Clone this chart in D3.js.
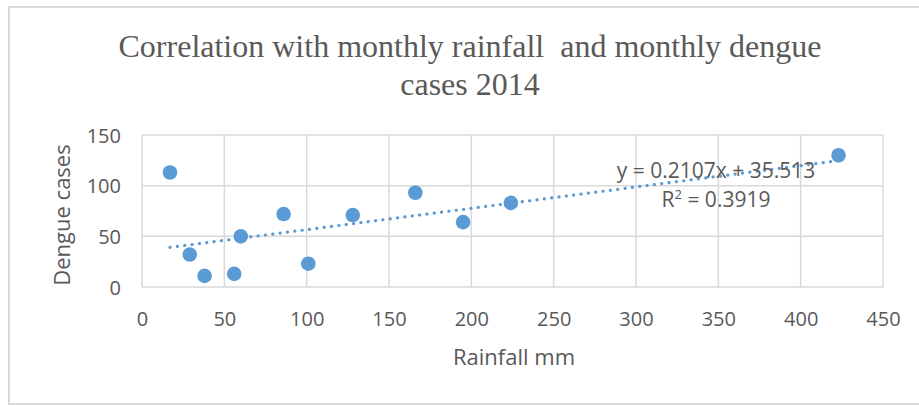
<!DOCTYPE html>
<html>
<head>
<meta charset="utf-8">
<script src="https://cdn.jsdelivr.net/npm/d3@7"></script>
<style>
  html, body { margin: 0; padding: 0; background: #fff; }
  svg { display: block; }
  .title { white-space: pre; }
</style>
</head>
<body>
<svg id="chart" width="919" height="406"></svg>
<script>
// ---- data ----
const rainfall = [17, 29, 38, 56, 60, 86, 101, 128, 166, 195, 224, 423];
const dengue   = [113, 32, 11, 13, 50, 72, 23, 71, 93, 64, 83, 130];
const xTicks = [0, 50, 100, 150, 200, 250, 300, 350, 400, 450];
const yTicks = [0, 50, 100, 150];
const trendSlope = 0.2107;
const trendIntercept = 35.513;
const titleLines = ["Correlation with monthly rainfall  and monthly dengue", "cases 2014"];
const xTitle = "Rainfall mm";
const yTitle = "Dengue cases";
const eqText = "y = 0.2107x + 35.513";
const r2Value = "0.3919";

// ---- layout ----
const svg = d3.select("#chart");
const W = 919, H = 406;
const plot = { left: 142, right: 883, top: 135, bottom: 287 };
const grey = "#595959";
const gridCol = "#d9d9d9";
const blue = "#5B9BD5";
const sans = "'Open Sans', 'Liberation Sans', sans-serif";

// outer border
svg.append("rect")
  .attr("x", 9).attr("y", 7)
  .attr("width", W + 20).attr("height", 397)
  .attr("fill", "#fff")
  .attr("stroke", gridCol).attr("stroke-width", 2);

const x = d3.scaleLinear().domain([0, 450]).range([plot.left, plot.right]);
const y = d3.scaleLinear().domain([0, 150]).range([plot.bottom, plot.top]);

// gridlines
const grid = svg.append("g");
grid.selectAll("line.v").data(xTicks).join("line")
  .attr("x1", d => x(d)).attr("x2", d => x(d))
  .attr("y1", plot.top).attr("y2", plot.bottom)
  .attr("stroke", gridCol).attr("stroke-width", 1.5);
grid.selectAll("line.h").data(yTicks).join("line")
  .attr("x1", plot.left).attr("x2", plot.right)
  .attr("y1", d => y(d)).attr("y2", d => y(d))
  .attr("stroke", gridCol).attr("stroke-width", 1.5);

// axes (labels only)
const xAxis = d3.axisBottom(x).tickValues(xTicks).tickSize(0).tickPadding(0);
const gx = svg.append("g").attr("transform", `translate(0,${plot.bottom})`).call(xAxis);
gx.select(".domain").remove();
gx.selectAll("text").attr("dy", null).attr("y", 39)
  .attr("font-family", sans).attr("font-size", 20).attr("fill", grey);

const yAxis = d3.axisLeft(y).tickValues(yTicks).tickSize(0).tickPadding(0);
const gy = svg.append("g").attr("transform", `translate(121,0)`).call(yAxis);
gy.select(".domain").remove();
gy.selectAll("text").attr("dy", "0.36em").attr("x", 0)
  .attr("font-family", sans).attr("font-size", 20).attr("fill", grey);

// trendline (dotted)
const xMin = d3.min(rainfall), xMax = d3.max(rainfall);
svg.append("line")
  .attr("x1", x(xMin)).attr("y1", y(trendSlope * xMin + trendIntercept))
  .attr("x2", x(xMax)).attr("y2", y(trendSlope * xMax + trendIntercept))
  .attr("stroke", blue).attr("stroke-width", 3.2)
  .attr("stroke-linecap", "round")
  .attr("stroke-dasharray", "0.1 7.3");

// points
const pts = rainfall.map((r, i) => ({ r, d: dengue[i] }));
svg.append("g").selectAll("circle").data(pts).join("circle")
  .attr("cx", p => x(p.r)).attr("cy", p => y(p.d))
  .attr("r", 7.3).attr("fill", blue);

// equation
svg.append("text")
  .attr("x", 716).attr("y", 178).attr("text-anchor", "middle")
  .attr("font-family", sans).attr("font-size", 21).attr("fill", grey)
  .text(eqText);
const r2 = svg.append("text")
  .attr("x", 716).attr("y", 207).attr("text-anchor", "middle")
  .attr("font-family", sans).attr("font-size", 21).attr("fill", grey);
r2.append("tspan").text("R");
r2.append("tspan").attr("font-size", 13).attr("dy", -8).text("2");
r2.append("tspan").attr("dy", 8).text(" = " + r2Value);

// title
svg.append("g").selectAll("text").data(titleLines).join("text")
  .attr("class", "title")
  .attr("x", 470).attr("y", (d, i) => 57 + i * 38)
  .attr("text-anchor", "middle")
  .attr("font-family", "'Liberation Serif', 'Times New Roman', serif")
  .attr("font-size", 32).attr("fill", grey)
  .text(d => d);

// axis titles
svg.append("text")
  .attr("x", 514).attr("y", 365).attr("text-anchor", "middle")
  .attr("font-family", sans).attr("font-size", 22).attr("fill", grey)
  .text(xTitle);
svg.append("text")
  .attr("transform", "translate(70,215) rotate(-90)")
  .attr("text-anchor", "middle")
  .attr("font-family", sans).attr("font-size", 22).attr("fill", grey)
  .text(yTitle);
</script>
</body>
</html>
